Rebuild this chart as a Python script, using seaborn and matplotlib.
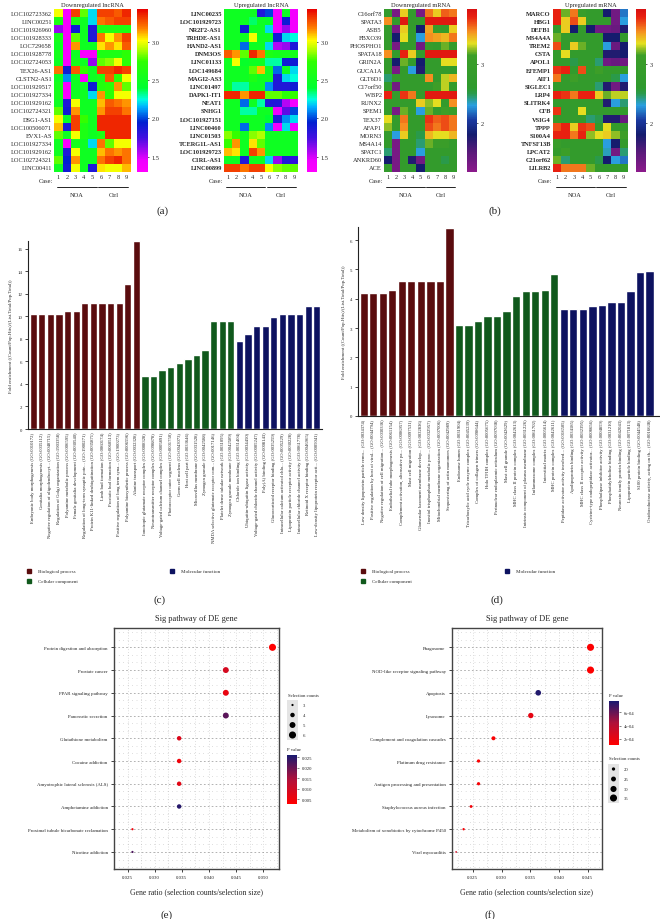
import numpy as np
import pandas as pd
import seaborn as sns
import matplotlib
matplotlib.use("Agg")
import matplotlib.pyplot as plt
from matplotlib.colors import LinearSegmentedColormap, Normalize
from matplotlib.cm import ScalarMappable
from matplotlib.lines import Line2D
from matplotlib.patches import Rectangle
import matplotlib.transforms as mtrans

# ---------------- data ----------------
cases = [1, 2, 3, 4, 5, 6, 7, 8, 9]

down_lnc_genes = ["LOC102723362", "LINC00251", "LOC101926960", "LOC101928333", "LOC729658",
                  "LOC101928778", "LOC102724053", "TEX26-AS1", "CLSTN2-AS1", "LOC101929517",
                  "LOC101927334", "LOC101929162", "LOC102724321", "DSG1-AS1", "LOC100506071",
                  "EVX1-AS", "LOC101927334", "LOC101929162", "LOC102724321", "LINC00411"]
down_lnc_vals = [
    [3.0, 1.35, 3.3, 2.8, 2.2, 3.3, 3.3, 3.25, 3.35],
    [2.6, 1.35, 2.6, 2.5, 2.2, 3.2, 3.25, 3.3, 3.3],
    [1.6, 1.35, 1.9, 2.5, 1.85, 2.6, 2.6, 2.6, 2.6],
    [2.55, 1.35, 2.8, 2.5, 1.85, 3.2, 3.0, 3.15, 3.3],
    [2.5, 1.35, 3.15, 2.5, 2.5, 3.05, 3.15, 3.05, 3.25],
    [2.55, 1.35, 2.5, 1.35, 1.35, 2.6, 2.6, 2.6, 2.7],
    [2.5, 1.35, 2.55, 2.5, 1.6, 2.8, 2.85, 3.0, 2.7],
    [3.2, 1.9, 3.25, 2.75, 2.5, 3.3, 3.3, 3.35, 3.3],
    [2.5, 2.1, 2.5, 1.4, 2.5, 2.6, 3.25, 2.7, 3.0],
    [2.55, 1.35, 2.5, 2.5, 1.9, 2.65, 2.7, 3.15, 2.8],
    [2.55, 1.35, 2.5, 2.5, 2.2, 3.15, 2.7, 3.0, 3.0],
    [2.5, 1.85, 3.0, 2.5, 2.5, 3.1, 3.25, 3.2, 3.15],
    [2.8, 1.9, 3.15, 2.5, 2.5, 3.15, 3.3, 3.3, 3.2],
    [3.0, 2.45, 3.3, 2.75, 2.5, 3.35, 3.35, 3.35, 3.35],
    [3.1, 1.85, 3.3, 2.6, 2.5, 3.35, 3.35, 3.35, 3.35],
    [2.8, 2.5, 3.0, 2.6, 2.5, 2.6, 3.35, 3.35, 3.35],
    [2.5, 1.35, 2.55, 2.5, 2.2, 3.2, 2.8, 3.0, 3.0],
    [2.5, 1.85, 3.0, 2.5, 2.5, 3.1, 3.2, 3.15, 3.2],
    [2.8, 1.95, 3.15, 2.5, 2.5, 3.2, 3.3, 3.35, 3.2],
    [2.5, 1.9, 3.0, 2.5, 1.85, 3.05, 3.0, 3.0, 3.1],
]

up_lnc_genes = ["LINC00235", "LOC101929723", "NR2F2-AS1", "TRHDE-AS1", "HAND2-AS1", "DNM3OS",
                "LINC01133", "LOC149684", "MAGI2-AS3", "LINC01497", "DAPK1-IT1", "NEAT1", "SNHG1",
                "LOC101927151", "LINC00460", "LINC01503", "TCERG1L-AS1", "LOC101929723",
                "C1RL-AS1", "LINC00899"]
up_lnc_vals = [
    [2.5, 2.5, 2.5, 2.5, 1.85, 2.0, 1.4, 2.5, 1.4],
    [2.5, 2.5, 2.5, 2.35, 2.5, 2.45, 1.4, 1.9, 1.4],
    [2.5, 2.5, 1.9, 2.5, 2.5, 2.2, 1.4, 1.6, 1.4],
    [2.5, 2.5, 2.5, 3.0, 2.5, 2.5, 1.9, 2.2, 2.25],
    [2.5, 2.5, 2.05, 2.5, 2.5, 2.2, 1.55, 1.6, 1.85],
    [3.25, 3.15, 2.8, 3.35, 3.2, 2.6, 2.55, 2.55, 2.55],
    [2.5, 3.0, 2.45, 2.5, 2.5, 2.3, 2.3, 1.9, 1.9],
    [2.5, 2.5, 2.5, 2.8, 3.1, 2.5, 2.05, 2.5, 2.2],
    [2.5, 2.5, 2.5, 2.6, 2.5, 2.5, 1.85, 2.2, 2.25],
    [2.5, 2.3, 2.3, 2.5, 2.5, 2.1, 1.85, 1.85, 1.9],
    [3.35, 3.35, 3.15, 3.35, 3.35, 2.8, 2.8, 2.7, 2.75],
    [2.5, 2.5, 2.05, 2.5, 2.3, 1.85, 1.85, 1.55, 1.4],
    [2.5, 2.5, 2.3, 2.3, 2.5, 2.5, 1.45, 1.7, 2.0],
    [2.5, 2.5, 2.5, 2.5, 2.5, 2.4, 1.85, 2.1, 2.2],
    [2.5, 2.5, 2.05, 2.5, 2.5, 2.1, 1.4, 2.2, 1.45],
    [2.85, 2.75, 2.5, 2.85, 2.9, 2.5, 2.5, 2.5, 2.5],
    [2.75, 3.15, 2.5, 3.05, 2.8, 2.5, 2.5, 2.5, 2.5],
    [3.1, 3.05, 2.5, 3.3, 3.15, 2.5, 2.5, 2.5, 2.5],
    [2.5, 2.5, 1.85, 2.5, 2.5, 2.2, 1.6, 1.85, 1.8],
    [3.3, 3.3, 3.2, 3.3, 3.3, 3.0, 2.85, 2.8, 2.8],
]

down_mrna_genes = ["C16orf78", "SPATA3", "ASB5", "FBXO39", "PHOSPHO1", "SPATA18", "GRIN2A", "GUCA1A",
                   "GLT6D1", "C17orf50", "WBP2", "RUNX2", "SPEM1", "TEX37", "AFAP1", "MORN3",
                   "MS4A14", "SPATC1", "ANKRD60", "ACE"]
down_mrna_vals = [
    [2.8, 1.3, 3.4, 2.8, 1.3, 3.6, 3.4, 3.65, 3.6],
    [3.55, 2.8, 3.85, 2.8, 2.8, 3.85, 3.85, 3.85, 3.85],
    [2.8, 1.3, 3.4, 2.8, 1.8, 3.5, 3.0, 2.9, 3.4],
    [2.8, 1.8, 3.35, 2.8, 2.3, 3.55, 3.5, 3.45, 3.6],
    [2.8, 1.3, 2.8, 2.8, 1.35, 2.9, 2.8, 3.2, 2.8],
    [3.55, 2.8, 3.8, 3.4, 2.8, 3.85, 3.85, 3.85, 3.85],
    [2.8, 1.8, 3.2, 2.8, 1.8, 2.8, 2.8, 3.35, 3.35],
    [2.8, 1.3, 2.8, 2.3, 1.75, 2.8, 2.8, 2.8, 2.8],
    [2.45, 2.8, 2.8, 2.8, 2.8, 3.55, 2.8, 3.3, 3.45],
    [2.8, 1.35, 2.8, 2.8, 2.8, 2.8, 3.15, 3.3, 2.8],
    [3.8, 2.8, 3.75, 3.6, 2.8, 3.85, 3.85, 3.85, 3.85],
    [2.8, 2.8, 2.8, 2.8, 3.4, 3.25, 3.35, 2.8, 3.55],
    [2.8, 1.3, 3.2, 2.8, 2.3, 3.2, 2.8, 3.15, 3.0],
    [3.35, 2.8, 3.6, 2.8, 2.8, 3.75, 3.65, 3.7, 3.6],
    [3.25, 2.8, 3.55, 2.8, 2.8, 3.7, 3.6, 3.7, 3.6],
    [2.8, 2.3, 3.4, 2.8, 2.5, 3.45, 3.35, 3.35, 3.45],
    [2.8, 1.3, 2.8, 2.8, 2.45, 3.2, 3.05, 3.05, 2.8],
    [2.45, 1.3, 2.8, 2.8, 2.3, 2.8, 2.8, 2.8, 2.8],
    [1.8, 1.3, 2.8, 1.75, 1.35, 2.8, 2.8, 2.5, 2.8],
    [2.8, 1.3, 2.8, 2.8, 1.8, 2.8, 2.8, 2.8, 2.8],
]

up_mrna_genes = ["MARCO", "HBG1", "DEFB1", "MS4A4A", "TREM2", "CSTA", "APOL1", "EFEMP1", "AIF1",
                 "SIGLEC1", "LRP4", "SLITRK4", "CFB", "VSIG4", "TPPP", "S100A4", "TNFSF13B",
                 "LPCAT2", "C21orf62", "LILRB2"]
up_mrna_vals = [
    [3.8, 3.2, 3.6, 3.0, 2.8, 2.8, 1.8, 1.35, 2.2],
    [3.8, 3.4, 3.7, 3.4, 2.8, 2.8, 2.8, 1.35, 2.3],
    [2.8, 3.4, 1.8, 2.8, 1.8, 1.35, 1.35, 1.4, 1.75],
    [3.2, 2.8, 2.8, 2.8, 2.8, 2.8, 1.8, 1.8, 2.8],
    [3.7, 2.8, 3.4, 3.2, 2.8, 2.8, 2.3, 1.4, 1.8],
    [2.8, 3.35, 2.8, 2.8, 2.8, 2.8, 1.75, 1.75, 1.8],
    [2.8, 2.8, 2.5, 2.8, 2.8, 2.45, 1.35, 1.4, 1.35],
    [3.75, 3.8, 2.8, 3.7, 2.8, 3.15, 2.8, 2.8, 2.8],
    [3.6, 2.8, 3.15, 2.8, 2.8, 2.8, 2.8, 2.5, 2.3],
    [2.8, 2.8, 2.8, 2.8, 2.8, 2.45, 1.75, 1.35, 1.75],
    [3.8, 3.75, 3.6, 3.8, 3.8, 3.4, 3.2, 3.3, 3.3],
    [2.8, 2.8, 2.8, 2.8, 2.8, 2.8, 1.75, 2.3, 2.45],
    [3.75, 2.8, 2.8, 3.35, 2.8, 2.8, 2.8, 2.8, 2.8],
    [2.8, 2.8, 2.8, 2.8, 2.45, 2.5, 1.75, 1.75, 1.4],
    [3.7, 3.8, 3.4, 3.75, 3.7, 2.8, 3.35, 2.8, 2.8],
    [3.8, 3.8, 3.6, 3.8, 3.25, 3.35, 3.4, 3.25, 3.15],
    [3.0, 2.8, 2.8, 2.8, 2.8, 2.8, 2.3, 1.8, 2.8],
    [2.8, 3.1, 2.8, 2.8, 2.8, 2.8, 2.35, 1.35, 2.45],
    [3.2, 2.45, 2.8, 2.8, 2.8, 2.5, 1.8, 2.3, 2.2],
    [3.8, 3.6, 3.6, 3.6, 3.2, 2.8, 2.8, 2.8, 2.8],
]

go_categories = ["Biological process", "Cellular component", "Molecular function"]

go_c_terms = [
    "Embryonic body morphogenesis (GO:0010172)", "Genitalia morphogenesis (GO:0035112)",
    "Negative regulation of oligodendrocyt... (GO:0048715)", "Regulation of Golgi organization (GO:1903358)",
    "Polyamine metabolic process (GO:0006595)", "Female genitalia development (GO:0030540)",
    "Regulation of long-term synaptic pote... (GO:1900271)", "Protein K11-linked deubiquitination (GO:0035871)",
    "Limb bud formation (GO:0060174)", "Prostatic bud formation (GO:0060513)",
    "Positive regulation of long term syna... (GO:1900273)", "Polyamine biosynthetic process (GO:0006596)",
    "Alanine transport (GO:0032328)",
    "Ionotropic glutamate receptor complex (GO:0008328)", "Neurotransmitter receptor complex (GO:0098878)",
    "Voltage-gated calcium channel complex (GO:0005891)", "Photoreceptor outer segment (GO:0001750)",
    "Germ cell nucleus (GO:0043073)", "Host cell part (GO:0033646)", "Microvillus membrane (GO:0031528)",
    "Zymogen granule (GO:0042588)", "NMDA selective glutamate receptor com... (GO:0017146)",
    "Platelet dense tubular network (GO:0031095)", "Zymogen granule membrane (GO:0042589)",
    "Chloride ion binding (GO:0031404)", "Ubiquitin-ubiquitin ligase activity (GO:0034450)",
    "Voltage-gated chloride channel activity (GO:0005247)", "Poly(A) binding (GO:0008143)",
    "Glucocorticoid receptor binding (GO:0035259)", "Intracellular calcium activated chlo... (GO:0005229)",
    "Lipoprotein particle receptor activity (GO:0030228)", "Intracellular chloride channel activity (GO:0061778)",
    "Retinoid X receptor binding (GO:0046965)", "Low-density lipoprotein receptor acti... (GO:0005041)",
]
go_c_fold = [10.2, 10.2, 10.2, 10.2, 10.5, 10.5, 11.2, 11.2, 11.2, 11.2, 11.2, 12.9, 16.7,
             4.7, 4.7, 5.25, 5.55, 5.85, 6.2, 6.55, 7.05, 9.6, 9.6, 9.6,
             7.8, 8.4, 9.15, 9.15, 9.95, 10.25, 10.25, 10.25, 10.95, 10.95]
go_c_cat = ["Biological process"] * 13 + ["Cellular component"] * 11 + ["Molecular function"] * 10

go_d_terms = [
    "Low density lipoprotein particle remo... (GO:0034374)", "Positive regulation by host of viral... (GO:0044794)",
    "Negative regulation of cell migration... (GO:0030336)", "Endothelial tube morphogenesis (GO:0061154)",
    "Complement activation, alternative pa... (GO:0006957)", "Mast cell migration (GO:0097531)",
    "Glomerular basement membrane develop... (GO:0032836)", "Inositol trisphosphate metabolic proc... (GO:0032957)",
    "Mitochondrial membrane organization (GO:0007006)", "Sequestering of actin monomers (GO:0042989)",
    "Endosome lumen (GO:0031904)", "Tricarboxylic acid cycle enzyme complex (GO:0045239)",
    "Complex of collagen trimers (GO:0098644)", "Holo TFIIH complex (GO:0005675)",
    "Perinuclear endoplasmic reticulum (GO:0097038)", "Mast cell granule (GO:0042629)",
    "MHC class II protein complex (GO:0042613)", "Intrinsic component of plasma membrane (GO:0031226)",
    "Inflammasome complex (GO:0061702)", "Interstitial matrix (GO:0005614)", "MHC protein complex (GO:0042611)",
    "Peptidase activator activity involved... (GO:0016505)", "Apolipoprotein binding (GO:0034185)",
    "MHC class II receptor activity (GO:0032395)", "Cysteine-type endopeptidase activator... (GO:0008656)",
    "Phospholipase inhibitor activity (GO:0004859)", "Phosphatidylcholine binding (GO:0031210)",
    "Neurexin family protein binding (GO:0042043)", "Lipoprotein particle binding (GO:0071813)",
    "S100 protein binding (GO:0044548)", "Oxidoreductase activity, acting on th... (GO:0016638)",
]
go_d_fold = [4.2, 4.2, 4.2, 4.3, 4.6, 4.6, 4.6, 4.6, 4.6, 6.4,
             3.1, 3.1, 3.25, 3.4, 3.4, 3.6, 4.1, 4.25, 4.25, 4.3, 4.85,
             3.65, 3.65, 3.65, 3.75, 3.8, 3.9, 3.9, 4.25, 4.9, 4.95]
go_d_cat = ["Biological process"] * 10 + ["Cellular component"] * 11 + ["Molecular function"] * 10

e_pathways = ["Protein digestion and absorption", "Prostate cancer", "PPAR signaling pathway",
              "Pancreatic secretion", "Glutathione metabolism", "Cocaine addiction",
              "Amyotrophic lateral sclerosis (ALS)", "Amphetamine addiction",
              "Proximal tubule bicarbonate reclamation", "Nicotine addiction"]
e_ratio = [0.0517, 0.0431, 0.0431, 0.0431, 0.0345, 0.0345, 0.0345, 0.0345, 0.0259, 0.0259]
e_counts = [6, 5, 5, 5, 4, 4, 4, 4, 3, 3]
e_pvals = [0.002, 0.009, 0.006, 0.021, 0.008, 0.005, 0.007, 0.025, 0.005, 0.022]

f_pathways = ["Phagosome", "NOD-like receptor signaling pathway", "Apoptosis", "Lysosome",
              "Complement and coagulation cascades", "Platinum drug resistance",
              "Antigen processing and presentation", "Staphylococcus aureus infection",
              "Metabolism of xenobiotics by cytochrome P450", "Viral myocarditis"]
f_ratio = [0.0455, 0.0455, 0.0364, 0.0351, 0.0286, 0.0260, 0.0260, 0.0247, 0.0234, 0.0221]
f_counts = [35, 35, 28, 27, 22, 20, 20, 19, 18, 17]
f_pvals = [0.00012, 0.00012, 0.00075, 0.00022, 0.00013, 0.00012, 0.00014, 0.00016, 0.00015, 0.00030]

# ---------------- style ----------------
sns.set_theme(style="white")
plt.rcParams["font.family"] = ["Liberation Serif", "DejaVu Serif"]

W, H = 660, 920
fig = plt.figure(figsize=(W / 100, H / 100), dpi=100)


def box(x0, y0, x1, y1):
    return [x0 / W, 1 - y1 / H, (x1 - x0) / W, (y1 - y0) / H]


def fx(x):
    return x / W


def fy(y):
    return 1 - y / H


lnc_vmin, lnc_vmax = 1.3, 3.43
lnc_nodes = [(1.3, "#ff00ff"), (1.45, "#ee00ff"), (1.75, "#4010e0"), (1.95, "#0020d0"),
             (2.15, "#00b0ff"), (2.25, "#00ffe0"), (2.4, "#00ff30"), (2.75, "#30ff00"),
             (2.9, "#b0ff00"), (3.02, "#ffff00"), (3.18, "#ff8000"), (3.43, "#e80000")]
lnc_cmap = LinearSegmentedColormap.from_list(
    "lnc", [((v - lnc_vmin) / (lnc_vmax - lnc_vmin), c) for v, c in lnc_nodes])

mr_vmin, mr_vmax = 1.17, 3.93
mr_nodes = [(1.17, "#8b1a8b"), (1.5, "#5a1a7a"), (1.8, "#141c6e"), (2.05, "#1a3aa0"),
            (2.3, "#2aa0e0"), (2.5, "#2a9a4a"), (2.6, "#2e9a2e"), (3.15, "#3c9e28"),
            (3.35, "#e6e020"), (3.55, "#f59020"), (3.8, "#e82010"), (3.93, "#d81010")]
mr_cmap = LinearSegmentedColormap.from_list(
    "mr", [((v - mr_vmin) / (mr_vmax - mr_vmin), c) for v, c in mr_nodes])


def draw_heatmap(rect, crect, genes, vals, title, cmap, vmin, vmax, cticks, clabels, bold):
    ax = fig.add_axes(box(*rect))
    cax = fig.add_axes(box(*crect))
    df = pd.DataFrame(vals, index=genes, columns=cases)
    sns.heatmap(df, ax=ax, cbar_ax=cax, cmap=cmap, vmin=vmin, vmax=vmax,
                xticklabels=cases, yticklabels=genes)
    ax.tick_params(length=0, pad=1.5)
    ax.set_yticks(np.arange(len(genes)) + 0.5)
    ax.set_yticklabels(genes, rotation=0, fontsize=4.6,
                       fontweight="bold" if bold else "normal")
    ax.set_xticklabels(cases, rotation=0, fontsize=4.6)
    ax.set_title(title, fontsize=4.6, pad=2)
    tr = mtrans.blended_transform_factory(ax.transData, ax.transAxes)
    ax.text(-0.15, -0.052, "Case:", transform=tr, ha="right", va="center", fontsize=4.6)
    ax.plot([0.3, 5.0], [-0.095, -0.095], transform=tr, color="black", lw=0.6, clip_on=False)
    ax.plot([5.2, 8.7], [-0.095, -0.095], transform=tr, color="black", lw=0.6, clip_on=False)
    ax.text(2.65, -0.135, "NOA", transform=tr, ha="center", va="center", fontsize=4.6)
    ax.text(6.95, -0.135, "Ctrl", transform=tr, ha="center", va="center", fontsize=4.6)
    cax.set_yticks(cticks)
    cax.set_yticklabels(clabels, fontsize=4.6)
    cax.tick_params(length=2, width=0.5, pad=1.5, direction="inout")
    return ax


draw_heatmap((54, 10, 131, 173), (137, 10, 148, 173), down_lnc_genes, down_lnc_vals,
             "Downregulated lncRNA", lnc_cmap, lnc_vmin, lnc_vmax,
             [1.5, 2.0, 2.5, 3.0], ["1.5", "2.0", "2.5", "3.0"], False)
draw_heatmap((224, 10, 298, 173), (307, 10, 317, 173), up_lnc_genes, up_lnc_vals,
             "Upregulated lncRNA", lnc_cmap, lnc_vmin, lnc_vmax,
             [1.5, 2.0, 2.5, 3.0], ["1.5", "2.0", "2.5", "3.0"], True)
draw_heatmap((384, 10, 457, 173), (467, 10, 477, 173), down_mrna_genes, down_mrna_vals,
             "Downregulated mRNA", mr_cmap, mr_vmin, mr_vmax, [2, 3], ["2", "3"], False)
draw_heatmap((553, 10, 628, 173), (636, 10, 646, 173), up_mrna_genes, up_mrna_vals,
             "Upregulated mRNA", mr_cmap, mr_vmin, mr_vmax, [2, 3], ["2", "3"], True)

fig.text(fx(163), fy(211), "(a)", ha="center", va="center", fontsize=8)
fig.text(fx(495), fy(211), "(b)", ha="center", va="center", fontsize=8)

# ---------------- GO bar charts ----------------
cat_colors = {"Biological process": "#5a0c0e", "Cellular component": "#10591c",
              "Molecular function": "#0d1260"}
ylab = "Fold enrichment ((Count/Pop.Hits)/(List.Total/Pop.Total))"


def draw_bars(rect, terms, fold, cats, ymax, yticks, width, xlim):
    ax = fig.add_axes(box(*rect))
    df = pd.DataFrame({"term": terms, "fold": fold, "cat": cats})
    sns.barplot(data=df, x="term", y="fold", hue="cat", palette=cat_colors, dodge=False,
                width=width, saturation=1, legend=False, ax=ax)
    ax.set_ylim(0, ymax)
    ax.set_xlim(*xlim)
    ax.set_yticks(yticks)
    ax.set_yticklabels([str(t) for t in yticks], fontsize=3.5)
    ax.set_xticks(range(len(terms)))
    ax.set_xticklabels(terms, rotation=90, fontsize=3.4)
    ax.set_xlabel("")
    ax.set_ylabel(ylab, fontsize=3.5, labelpad=3)
    ax.tick_params(axis="y", length=2.5, width=0.6, pad=1.5, left=True)
    ax.tick_params(axis="x", length=0, pad=2)
    for s in ["top", "right"]:
        ax.spines[s].set_visible(False)
    for s in ["left", "bottom"]:
        ax.spines[s].set_color("#222222")
        ax.spines[s].set_linewidth(0.8)
    return ax


draw_bars((28, 242, 322, 430), go_c_terms, go_c_fold, go_c_cat, 16.7,
          [0, 2, 4, 6, 8, 10, 12, 14, 16], 0.84, (-0.6, 33.6))
draw_bars((358, 228, 660, 417), go_d_terms, go_d_fold, go_d_cat, 6.45,
          [0, 1, 2, 3, 4, 5, 6], 0.87, (-0.6, 31.1))


def go_legend(x1, x2, y1, y2):
    spots = [(x1, y1), (x1, y2), (x2, y1)]
    for (x, y), name in zip(spots, go_categories):
        fig.add_artist(Line2D([fx(x)], [fy(y)], marker="s", markersize=2.6, linestyle="none",
                              color=cat_colors[name], transform=fig.transFigure))
        fig.text(fx(x + 9), fy(y), name, fontsize=3.6, va="center", ha="left")


go_legend(29, 172, 572, 582)
go_legend(363, 507, 572, 582)
fig.text(fx(160), fy(600), "(c)", ha="center", va="center", fontsize=8)
fig.text(fx(497), fy(600), "(d)", ha="center", va="center", fontsize=8)

# ---------------- KEGG dot plots ----------------
p_cmap = LinearSegmentedColormap.from_list("p", ["#ff0000", "#b0103a", "#191970"])


def draw_dots(rect, pathways, ratio, counts, pvals, xlim, xticks, xfmt, snorm, sizes, pnorm):
    ax = fig.add_axes(box(*rect))
    df = pd.DataFrame({"pathway": pathways, "ratio": ratio, "count": counts, "p": pvals})
    sns.scatterplot(data=df, x="ratio", y="pathway", hue="p", size="count", palette=p_cmap,
                    hue_norm=pnorm, sizes=sizes, size_norm=snorm, legend=False,
                    edgecolor="none", ax=ax, zorder=3)
    n = len(pathways)
    ax.set_ylim(n - 0.25, -0.85)
    ax.set_xlim(*xlim)
    ax.set_yticks(range(n))
    ax.set_yticklabels(pathways, fontsize=3.5)
    minor_y = [i + d for i in range(-1, n) for d in (1 / 3, 2 / 3)]
    ax.set_yticks(minor_y, minor=True)
    ax.set_xticks(xticks)
    ax.set_xticklabels([xfmt.format(t) for t in xticks], fontsize=3.5)
    step = xticks[1] - xticks[0]
    ax.set_xticks([t + step / 2 for t in [xticks[0] - step] + list(xticks)], minor=True)
    ax.grid(True, which="major", axis="y", color="#777777", lw=0.4, linestyle=(0, (3, 4)))
    ax.grid(True, which="minor", axis="y", color="#999999", lw=0.4, linestyle=(0, (1, 7)))
    ax.grid(True, which="both", axis="x", color="#999999", lw=0.4, linestyle=(0, (1, 4)))
    ax.tick_params(which="major", length=2.5, width=0.6, pad=2, left=True, bottom=True,
                   colors="#222222")
    ax.tick_params(which="minor", length=0)
    for s in ax.spines.values():
        s.set_color("#444444")
        s.set_linewidth(1.0)
    ax.set_ylabel("")
    ax.set_xlabel("Gene ratio (selection counts/selection size)", fontsize=5.6, labelpad=6)
    ax.set_title("Sig pathway of DE gene", fontsize=6, pad=6)
    return ax


def size_legend(x, y_title, ys, values, snorm, sizes):
    fig.text(fx(x), fy(y_title), "Selection counts", fontsize=3.4, va="center", ha="left")
    lax = fig.add_axes(box(x - 1, ys[0] - 5, x + 10, ys[-1] + 5))
    lax.set_xlim(0, 1)
    lax.set_ylim(ys[-1] + 5, ys[0] - 5)
    lax.axis("off")
    for yv, v in zip(ys, values):
        lax.add_patch(Rectangle((0, yv - 5), 1, 10, color="#e4e4e4", lw=0))
        area = sizes[0] + (v - snorm[0]) / (snorm[1] - snorm[0]) * (sizes[1] - sizes[0])
        lax.scatter([0.5], [yv], s=area, color="black", zorder=3, edgecolor="none")
        fig.text(fx(x + 15), fy(yv), str(v), fontsize=3.4, va="center", ha="left")


def p_legend(x, y_title, y0, y1, pnorm, ticks, labels):
    fig.text(fx(x), fy(y_title), "P value", fontsize=3.4, va="center", ha="left")
    cax = fig.add_axes(box(x, y0, x + 10, y1))
    cb = fig.colorbar(ScalarMappable(norm=Normalize(*pnorm), cmap=p_cmap), cax=cax)
    cb.outline.set_visible(False)
    cb.set_ticks(ticks)
    cb.set_ticklabels(labels, fontsize=3.4)
    cax.tick_params(length=1.5, width=0.4, pad=2, colors="#222222")


e_snorm, e_sizes = (3, 6), (2.5, 26)
e_pnorm = (0.0028, 0.026)
draw_dots((114, 629, 279, 870), e_pathways, e_ratio, e_counts, e_pvals,
          (0.02466, 0.0529), [0.025, 0.030, 0.035, 0.040, 0.045, 0.050], "{:.3f}",
          e_snorm, e_sizes, e_pnorm)
size_legend(288, 696, [706, 716, 726, 736], [3, 4, 5, 6], e_snorm, e_sizes)
p_legend(287, 750, 756, 805, e_pnorm, [0.005, 0.010, 0.015, 0.020, 0.025],
         ["0.005", "0.010", "0.015", "0.020", "0.025"])

f_snorm, f_sizes = (17, 35), (1.5, 26)
f_pnorm = (0.00011, 0.00077)
draw_dots((452, 629, 602, 870), f_pathways, f_ratio, f_counts, f_pvals,
          (0.02138, 0.04724), [0.025, 0.030, 0.035, 0.040, 0.045], "{:.3f}",
          f_snorm, f_sizes, f_pnorm)
p_legend(609, 696, 702, 746, f_pnorm, [0.0002, 0.0004, 0.0006], ["2e-04", "4e-04", "6e-04"])
size_legend(609, 759, [770, 780, 790, 799], [20, 25, 30, 35], f_snorm, f_sizes)

fig.text(fx(167), fy(915), "(e)", ha="center", va="center", fontsize=8)
fig.text(fx(490), fy(915), "(f)", ha="center", va="center", fontsize=8)

fig.savefig("out.png", dpi=100, facecolor="white")
